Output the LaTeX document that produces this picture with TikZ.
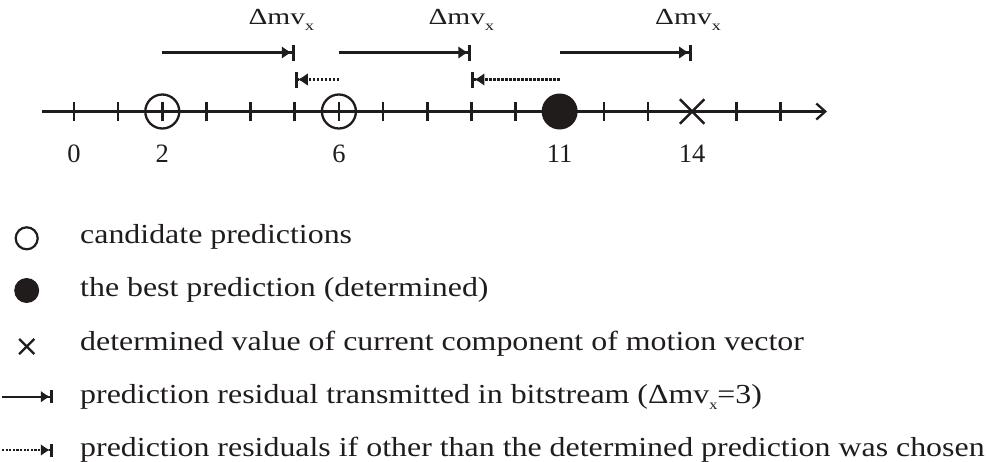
\documentclass[tikz,border=0pt]{standalone}
\usepackage{fontspec}
\setmainfont{Liberation Serif}
\newfontfamily\legendfont{Liberation Serif}[FakeStretch=1.16]
\newfontfamily\deltafont{Liberation Serif}[FakeStretch=1.28]
\usetikzlibrary{arrows.meta,shapes.misc}
\definecolor{ink}{RGB}{32,28,28}
% subscript x used in the residual labels
\newcommand{\subx}[1]{\raisebox{-6pt}{\fontsize{#1}{#1}\selectfont x}}
\begin{document}
\begin{tikzpicture}[x=1pt,y=-1pt,
  every node/.style={text=ink},
  axisline/.style={draw=ink,line width=2.5pt,-{Straight Barb[length=9pt,width=16pt,line width=2.3pt]}},
  tickmark/.style={draw=ink,line width=2.6pt},
  cand/.style={circle,draw=ink,line width=2.3pt,minimum size=34pt,inner sep=0pt},
  best/.style={circle,fill=ink,minimum size=36pt,inner sep=0pt},
  truemv/.style={cross out,draw=ink,line width=2.4pt,minimum size=22pt,inner sep=0pt},
  resid/.style={draw=ink,line width=2.6pt,-{Latex[length=10pt,width=13pt]Bar[width=16pt,line width=3pt]}},
  altresid/.style={resid,dash pattern=on 2.4pt off 1.6pt},
  numlabel/.style={font=\fontsize{26.5}{26.5}\selectfont,anchor=base,inner sep=0pt},
  dlabel/.style={font=\deltafont\fontsize{23}{23}\selectfont,anchor=base west,inner sep=0pt},
  legtext/.style={font=\legendfont\fontsize{27.5}{27.5}\selectfont,anchor=base west,inner sep=0pt},
  legcand/.style={circle,draw=ink,line width=2.2pt,minimum size=22pt,inner sep=0pt},
  legbest/.style={circle,fill=ink,minimum size=25pt,inner sep=0pt},
  legcross/.style={cross out,draw=ink,line width=2.2pt,minimum size=13pt,inner sep=0pt},
  legresid/.style={draw=ink,line width=2.3pt,-{Latex[length=9pt,width=12pt]Bar[width=13pt,line width=2.8pt]}},
  legalt/.style={legresid,dash pattern=on 2.2pt off 1.4pt}]
\useasboundingbox (0,0) rectangle (989,461);

% number line
\coordinate (axstart) at (41.7,111.5);
\coordinate (axend) at (827,111.5);
\foreach \n in {0,...,16}{
  \coordinate (t\n) at ({74+44.15*\n},111.5);
}
\draw[axisline] (axstart) -- (axend);
\foreach \n in {0,1,2,3,4,5,6,7,8,9,10,12,13,15,16}{
  \draw[tickmark] ([yshift=9.5pt]t\n) -- ([yshift=-9.5pt]t\n);
}

% predictions and the true value
\node[cand] (c2) at (t2) {};
\node[cand] (c6) at (t6) {};
\node[best] (b11) at (t11) {};
\node[truemv] (m14) at (t14) {};

% axis numbers
\foreach \n/\v in {0/0,2/2,6/6,11/11,14/14}{
  \node[numlabel] (n\n) at ([yshift=-51pt]t\n) {\v};
}

% residual arrows (solid: transmitted; dotted: alternatives)
\foreach \n in {2,5,6,9,11,14}{
  \coordinate (s\n) at ([yshift=59pt]t\n);
  \coordinate (d\n) at ([yshift=32pt]t\n);
}
\draw[resid] (s2) -- (s5);
\draw[resid] (s6) -- (s9);
\draw[resid] (s11) -- (s14);
\draw[altresid] (d6) -- (d5);
\draw[altresid] (d11) -- (d9);

\node[dlabel] (l1) at (248.3,24.8) {Δmv\subx{14}};
\node[dlabel] (l2) at (428.3,24.8) {Δmv\subx{14}};
\node[dlabel] (l3) at (655,24.8) {Δmv\subx{14}};

% legend
\node[legcand] (k1) at (26.7,238.3) {};
\node[legbest] (k2) at (26.7,290.5) {};
\node[legcross] (k3) at (26.7,346.5) {};
\coordinate (k4a) at (2,396.7);
\coordinate (k4b) at (52.7,396.7);
\coordinate (k5a) at (2,450);
\coordinate (k5b) at (52.7,450);
\draw[legresid] (k4a) -- (k4b);
\draw[legalt] (k5a) -- (k5b);

\node[legtext] (e1) at (80,243) {candidate predictions};
\node[legtext] (e2) at (80,296.3) {the best prediction (determined)};
\node[legtext] (e3) at (80,350.7) {determined value of current component of motion vector};
\node[legtext] (e4) at (80,403.5) {prediction residual transmitted in bitstream (Δmv\subx{14}=3)};
\node[legtext] (e5) at (80,456) {prediction residuals if other than the determined prediction was chosen};
\end{tikzpicture}
\end{document}
